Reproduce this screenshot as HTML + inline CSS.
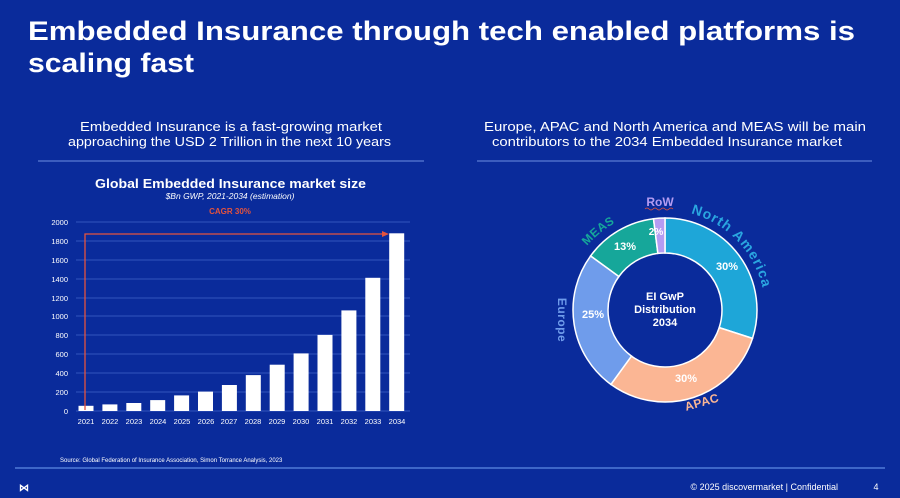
<!DOCTYPE html>
<html><head><meta charset="utf-8"><style>
html,body{margin:0;padding:0;background:#0a2b9b;}
svg{display:block;font-family:"Liberation Sans",sans-serif;}
</style></head><body>
<svg width="900" height="498" viewBox="0 0 900 498" xmlns="http://www.w3.org/2000/svg">
<rect width="900" height="498" fill="#0a2b9b"/>
<g fill="#fff" font-weight="bold" font-size="27">
<text x="28" y="40" textLength="827" lengthAdjust="spacingAndGlyphs">Embedded Insurance through tech enabled platforms is</text>
<text x="28" y="72" textLength="166" lengthAdjust="spacingAndGlyphs">scaling fast</text>
</g>
<g fill="#fff" font-size="13">
<text x="80" y="131" textLength="302" lengthAdjust="spacingAndGlyphs">Embedded Insurance is a fast-growing market</text>
<text x="68" y="146" textLength="323" lengthAdjust="spacingAndGlyphs">approaching the USD 2 Trillion in the next 10 years</text>
<text x="484" y="131" textLength="382" lengthAdjust="spacingAndGlyphs">Europe, APAC and North America and MEAS will be main</text>
<text x="492" y="146" textLength="350" lengthAdjust="spacingAndGlyphs">contributors to the 2034 Embedded Insurance market</text>
</g>
<line x1="38" y1="161" x2="424" y2="161" stroke="#6d8fe0" stroke-width="1"/>
<line x1="477" y1="161" x2="872" y2="161" stroke="#6d8fe0" stroke-width="1"/>
<text x="95" y="188" fill="#fff" font-weight="bold" font-size="13" textLength="271" lengthAdjust="spacingAndGlyphs">Global Embedded Insurance market size</text>
<text x="230" y="199" fill="#fff" font-style="italic" font-size="8.5" text-anchor="middle">$Bn GWP, 2021-2034 (estimation)</text>
<text x="230" y="214" fill="#e5533d" font-weight="bold" font-size="8" text-anchor="middle">CAGR 30%</text>
<g stroke="#3f63c9" stroke-width="0.8">
<line x1="76" y1="222" x2="410" y2="222"/><line x1="76" y1="241" x2="410" y2="241"/>
<line x1="76" y1="260" x2="410" y2="260"/><line x1="76" y1="279" x2="410" y2="279"/>
<line x1="76" y1="298" x2="410" y2="298"/><line x1="76" y1="316" x2="410" y2="316"/>
<line x1="76" y1="335" x2="410" y2="335"/><line x1="76" y1="354" x2="410" y2="354"/>
<line x1="76" y1="373" x2="410" y2="373"/><line x1="76" y1="392" x2="410" y2="392"/>
<line x1="76" y1="411" x2="410" y2="411"/>
</g>
<g fill="#fff" font-size="7.5" text-anchor="end">
<text x="68" y="225">2000</text><text x="68" y="244">1800</text><text x="68" y="263">1600</text>
<text x="68" y="282">1400</text><text x="68" y="301">1200</text><text x="68" y="319">1000</text>
<text x="68" y="338">800</text><text x="68" y="357">600</text><text x="68" y="376">400</text>
<text x="68" y="395">200</text><text x="68" y="414">0</text>
</g>
<g fill="#fff">
<rect x="78.5" y="405.8" width="15" height="5.2"/>
<rect x="102.4" y="404.4" width="15" height="6.6"/>
<rect x="126.3" y="403" width="15" height="8"/>
<rect x="150.2" y="400.1" width="15" height="10.9"/>
<rect x="174.1" y="395.4" width="15" height="15.6"/>
<rect x="198" y="391.6" width="15" height="19.4"/>
<rect x="221.9" y="385" width="15" height="26"/>
<rect x="245.8" y="375.1" width="15" height="35.9"/>
<rect x="269.7" y="364.7" width="15" height="46.3"/>
<rect x="293.6" y="353.4" width="15" height="57.6"/>
<rect x="317.5" y="334.9" width="15" height="76.1"/>
<rect x="341.4" y="310.4" width="15" height="100.6"/>
<rect x="365.3" y="277.8" width="15" height="133.2"/>
<rect x="389.2" y="233.3" width="15" height="177.7"/>
</g>
<g fill="#fff" font-size="7.5" text-anchor="middle">
<text x="86" y="424">2021</text><text x="110" y="424">2022</text><text x="134" y="424">2023</text>
<text x="158" y="424">2024</text><text x="182" y="424">2025</text><text x="206" y="424">2026</text>
<text x="229" y="424">2027</text><text x="253" y="424">2028</text><text x="277" y="424">2029</text>
<text x="301" y="424">2030</text><text x="325" y="424">2031</text><text x="349" y="424">2032</text>
<text x="373" y="424">2033</text><text x="397" y="424">2034</text>
</g>
<polyline points="85,410 85,234 385,234" fill="none" stroke="#e5533d" stroke-width="1.3"/>
<polygon points="389,234 382,231 382,237" fill="#e5533d"/>
<text x="60" y="462" fill="#fff" font-size="6">Source: Global Federation of Insurance Association, Simon Torrance Analysis, 2023</text>
<line x1="15" y1="468" x2="885" y2="468" stroke="#4f7ad8" stroke-width="1.5"/>
<text x="838" y="490" fill="#fff" font-size="9" text-anchor="end">© 2025 discovermarket | Confidential</text>
<text x="876" y="490" fill="#fff" font-size="9" text-anchor="middle">4</text>
<text x="19" y="491" fill="#fff" font-size="10" font-weight="bold">⋈</text>
<g stroke="#fff" stroke-width="1.5">
<path d="M665,218 A92,92 0 0 1 752.5,338.4 L719.2,327.6 A57,57 0 0 0 665,253 Z" fill="#1ea6d8"/>
<path d="M752.5,338.4 A92,92 0 0 1 610.9,384.4 L631.5,356.1 A57,57 0 0 0 719.2,327.6 Z" fill="#fbb694"/>
<path d="M610.9,384.4 A92,92 0 0 1 590.6,255.9 L618.9,276.5 A57,57 0 0 0 631.5,356.1 Z" fill="#6f9ceb"/>
<path d="M590.6,255.9 A92,92 0 0 1 653.5,218.7 L657.9,253.4 A57,57 0 0 0 618.9,276.5 Z" fill="#16a79a"/>
<path d="M653.5,218.7 A92,92 0 0 1 665,218 L665,253 A57,57 0 0 0 657.9,253.4 Z" fill="#b49cf2"/>
</g>
<g fill="#fff" font-weight="bold" font-size="11" text-anchor="middle">
<text x="727" y="270">30%</text><text x="686" y="382">30%</text>
<text x="593" y="318">25%</text><text x="625" y="250">13%</text>
<text x="656" y="235" font-size="10">2%</text>
<text x="665" y="300">EI GwP</text>
<text x="665" y="313">Distribution</text>
<text x="665" y="326">2034</text>
</g>
<defs>
<path id="na" d="M690.9,213.4 A100,100 0 0 1 764.6,318.7"/>
<path id="me" d="M587,246 A100,100 0 0 1 634.1,214.9"/>
</defs>
<text fill="#2aa6e0" font-weight="bold" font-size="14" letter-spacing="1"><textPath href="#na">North America</textPath></text>
<text fill="#16a79a" font-weight="bold" font-size="12" letter-spacing="0.5"><textPath href="#me">MEAS</textPath></text>
<text x="660" y="206" fill="#b49cf2" font-weight="bold" font-size="12" text-anchor="middle">RoW</text>
<path d="M645,209 q2,-2 4,0 t4,0 t4,0 t4,0 t4,0 t4,0 t4,0" stroke="#e5533d" stroke-width="0.8" fill="none"/>
<text x="0" y="0" fill="#6f9ceb" font-weight="bold" font-size="12" text-anchor="middle" transform="translate(558,320) rotate(90)" letter-spacing="0.5">Europe</text>
<text x="0" y="0" fill="#fbb694" font-weight="bold" font-size="12" text-anchor="middle" transform="translate(703,406) rotate(-16)" letter-spacing="0.5">APAC</text>
</svg>
</body></html>
